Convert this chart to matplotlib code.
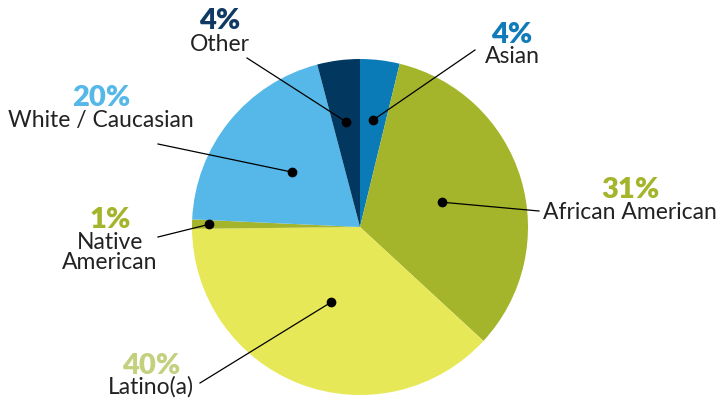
import numpy as np
import matplotlib.pyplot as plt

# slice shares, clockwise from 12 o'clock
groups = ['Asian', 'African American', 'Latino(a)', 'Native\nAmerican', 'White / Caucasian', 'Other']
shares = [3.8, 33.1, 38.0, 0.9, 20.2, 4.1]
pct_labels = ['4%', '31%', '40%', '1%', '20%', '4%']

colors = ['#0a7bb6', '#a4b52b', '#e7e857', '#a4b52b', '#55b8e8', '#02375f']
pct_colors = ['#0f7bb8', '#a4b52b', '#c3d07e', '#a4b52b', '#55b8e8', '#0f3a63']

W, H = 724, 404
fig = plt.figure(figsize=(7.24, 4.04), dpi=100)
ax = fig.add_axes([0, 0, 1, 1])

cx, cy, R = 360, H - 227, 168
wedges, _ = ax.pie(shares, colors=colors, startangle=90, counterclock=False,
                   center=(cx, cy), radius=R, wedgeprops=dict(linewidth=0))
ax.set_xlim(0, W)
ax.set_ylim(0, H)
ax.set_aspect('equal')
ax.axis('off')

# where the dot sits inside each slice (fraction of radius)
dot_frac = [0.64, 0.51, 0.48, 0.9, 0.52, 0.63]
# outer end of the leader lines (pixels, from top-left)
line_end = [(475, 50), (539, 211), (200, 383), (158, 237), (158, 144), (247, 58)]
# text centre x, percent baseline, name baseline (pixels)
text_pos = [(512, 43, 63), (630, 198, 219), (151, 374, 394),
            (110, 228, 269), (101, 106, 127), (220, 29, 51)]

for i, w in enumerate(wedges):
    mid = np.deg2rad((w.theta1 + w.theta2) / 2)
    px = cx + dot_frac[i] * R * np.cos(mid)
    py = cy + dot_frac[i] * R * np.sin(mid)
    ex, ey = line_end[i]
    ax.plot([px, ex], [py, H - ey], color='black', lw=0.9, zorder=3)
    ax.plot(px, py, 'o', color='black', ms=6, zorder=4)

    tx, pb, nb = text_pos[i]
    ax.text(tx, H - pb, pct_labels[i], ha='center', va='baseline',
            fontsize=21, fontweight='heavy', family='Lato', color=pct_colors[i])
    ax.text(tx, H - nb, groups[i], ha='center', va='baseline', linespacing=0.95,
            fontsize=16.5, fontweight='normal', family='Lato', color='#222222')

fig.savefig('out.png', dpi=100)
